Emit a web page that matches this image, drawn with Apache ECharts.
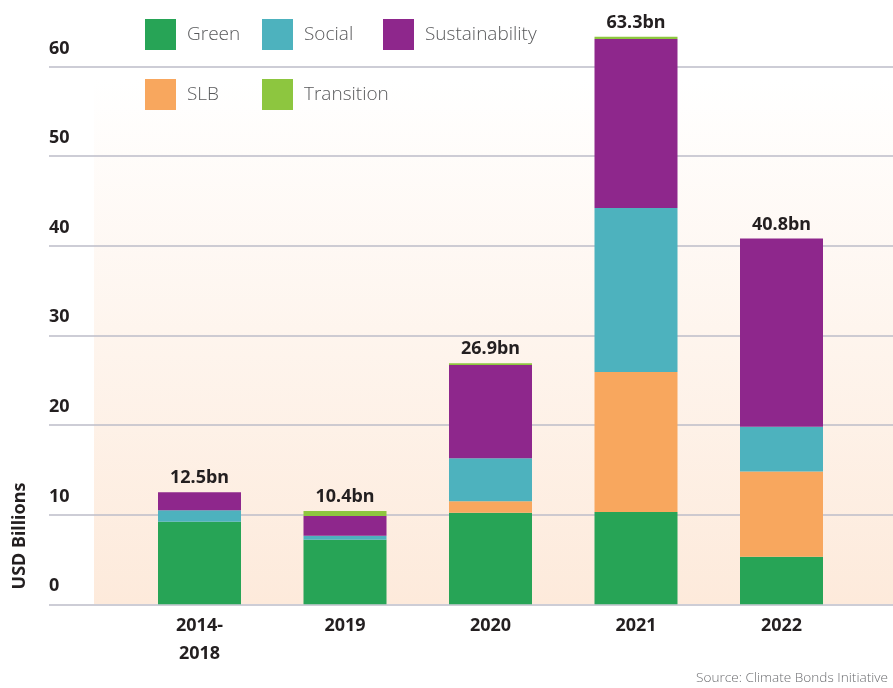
<!DOCTYPE html>
<html>
<head>
<meta charset="utf-8">
<script src="https://cdn.jsdelivr.net/npm/echarts@6/dist/echarts.min.js"></script>
<style>
  html, body { margin: 0; padding: 0; background: #ffffff; }
  #chart { width: 893px; height: 688px; }
</style>
</head>
<body>
<div id="chart"></div>
<script>
const years = ['2014-\n2018', '2019', '2020', '2021', '2022'];
const green = [9.2, 7.2, 10.2, 10.3, 5.3];
const slb = [0, 0, 1.3, 15.6, 9.5];
const social = [1.3, 0.45, 4.8, 18.3, 5.0];
const sustainability = [2.0, 2.2, 10.4, 18.85, 21.0];
const transition = [0, 0.55, 0.2, 0.25, 0];
const totals = ['12.5bn', '10.4bn', '26.9bn', '63.3bn', '40.8bn'];
const yTicks = [0, 10, 20, 30, 40, 50, 60];

const colors = {
    Green: '#27a456',
    SLB: '#f8a75e',
    Social: '#4db2be',
    Sustainability: '#8e278c',
    Transition: '#8dc63f'
};

const boldFont = 'Noto Sans';
const lightFont = 'Open Sans';

const chart = echarts.init(document.getElementById('chart'));

function barSeries(name, data) {
    return {
        name: name,
        type: 'bar',
        stack: 'total',
        xAxisIndex: 0,
        yAxisIndex: 0,
        barWidth: 83,
        clip: false,
        itemStyle: { color: colors[name] },
        data: data
    };
}

const legendText = {
    color: '#58595b',
    fontSize: 19,
    fontFamily: lightFont,
    fontWeight: 300,
    padding: [0, 0, 0, 6]
};

function legendAt(names, left) {
    return {
        data: names,
        orient: 'vertical',
        left: left,
        top: 14,
        itemWidth: 31,
        itemHeight: 31,
        itemGap: 29,
        icon: 'rect',
        textStyle: legendText,
        selectedMode: false
    };
}

const series = [
    barSeries('Green', green),
    barSeries('SLB', slb),
    barSeries('Social', social),
    barSeries('Sustainability', sustainability),
    barSeries('Transition', transition)
];
// totals sit on top of the last stacked series
series[4].label = {
    show: true,
    position: 'top',
    distance: 5,
    formatter: p => totals[p.dataIndex],
    color: '#231f20',
    fontSize: 18,
    fontWeight: 'bold',
    fontFamily: boldFont
};

chart.setOption({
    animation: false,
    backgroundColor: '#ffffff',
    graphic: [
        {
            type: 'rect',
            z: -10,
            shape: { x: 94, y: 80, width: 799, height: 524 },
            style: {
                fill: new echarts.graphic.LinearGradient(0, 0, 0, 1, [
                    { offset: 0, color: '#ffffff' },
                    { offset: 1, color: '#fdeadb' }
                ])
            }
        },
        {
            type: 'text',
            x: 20,
            y: 536,
            rotation: Math.PI / 2,
            style: {
                text: 'USD Billions',
                fill: '#231f20',
                font: 'bold 18px "Noto Sans"',
                textAlign: 'center',
                textVerticalAlign: 'middle'
            }
        },
        {
            type: 'text',
            right: 5,
            top: 671,
            style: {
                text: 'Source: Climate Bonds Initiative',
                fill: '#6d6e71',
                font: '300 13.6px "Open Sans"'
            }
        }
    ],
    legend: [
        legendAt(['Green', 'SLB'], 140),
        legendAt(['Social', 'Transition'], 257),
        legendAt(['Sustainability'], 378)
    ],
    grid: [
        { left: 126.75, right: 38.75, top: 66.4, bottom: 83.7 },
        { left: 49, right: 0, top: 66.4, bottom: 83.7 }
    ],
    xAxis: [
        {
            type: 'category',
            gridIndex: 0,
            data: years,
            axisLine: { show: false },
            axisTick: { show: false },
            axisLabel: {
                margin: 8,
                color: '#231f20',
                fontSize: 18,
                fontWeight: 'bold',
                fontFamily: boldFont,
                lineHeight: 28
            }
        },
        { type: 'value', gridIndex: 1, show: false, min: 0, max: 1 }
    ],
    yAxis: [
        {
            type: 'value',
            gridIndex: 0,
            min: 0,
            max: 60,
            interval: 10,
            show: false
        },
        {
            type: 'value',
            gridIndex: 1,
            min: yTicks[0],
            max: yTicks[yTicks.length - 1],
            interval: 10,
            axisLine: { show: false },
            axisTick: { show: false },
            splitLine: { lineStyle: { color: '#bdbcc8', width: 1.5 } },
            axisLabel: {
                inside: true,
                margin: 0,
                align: 'left',
                verticalAlign: 'bottom',
                padding: [0, 0, 9, 0],
                color: '#231f20',
                fontSize: 18,
                fontWeight: 'bold',
                fontFamily: boldFont
            }
        }
    ],
    series: series
});
</script>
</body>
</html>
